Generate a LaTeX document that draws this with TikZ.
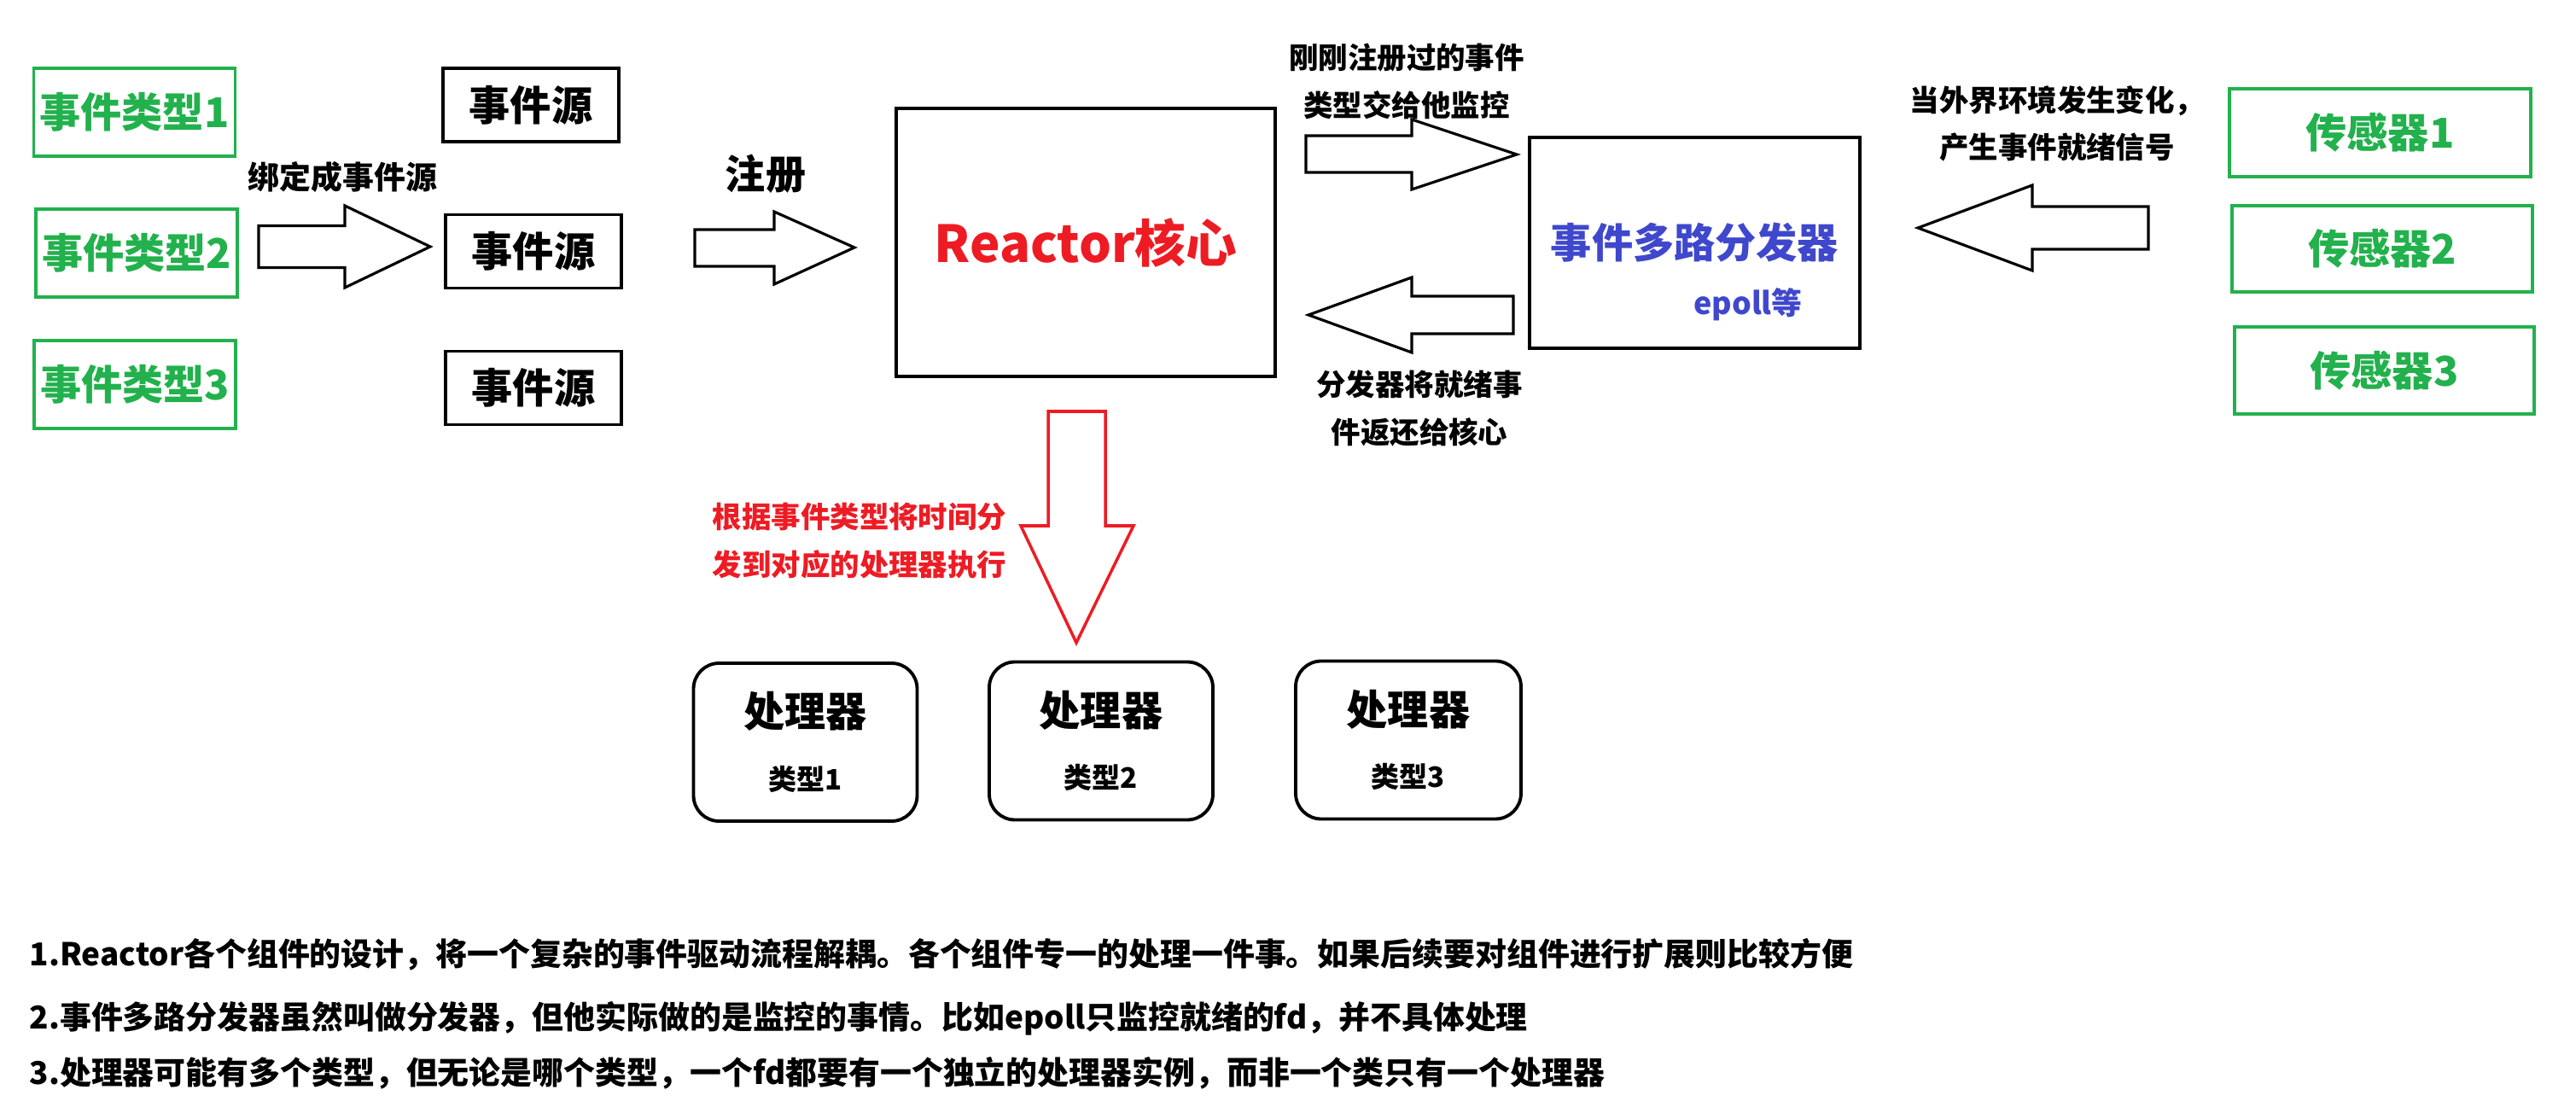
\documentclass[tikz,border=0pt]{standalone}
\usepackage{fontspec}
\setmainfont{Noto Sans CJK SC}

\newcommand{\boxfont}{\fontsize{13.7}{16}\selectfont\bfseries}
\newcommand{\corefont}{\fontsize{17}{20}\selectfont\bfseries}
\newcommand{\notefont}{\fontsize{9.8}{15.9}\selectfont\bfseries}
\newcommand{\typefont}{\fontsize{9.4}{11}\selectfont\bfseries}
\newcommand{\remarkfont}{\fontsize{10.5}{12}\selectfont\bfseries}

\begin{document}
\begin{tikzpicture}[
		greenbox/.style={draw=paintgreen, line width=1.1pt, text=paintgreen, minimum width=2.36cm, minimum height=1.03cm, inner sep=0pt, font=\boxfont},
		sourcebox/.style={draw, line width=1.1pt, minimum width=2.06cm, minimum height=0.86cm, inner sep=0pt, font=\boxfont},
		handlerbox/.style={draw, line width=1.1pt, rounded corners=0.3cm, minimum width=2.62cm, minimum height=1.85cm, align=center, inner sep=0pt, font=\fontsize{13.7}{21}\selectfont\bfseries},
		blockarrow/.style={draw, line width=0.9pt, line join=miter},
		notetext/.style={align=center, font=\notefont},
		remark/.style={anchor=west, inner sep=0pt, font=\remarkfont},
	]
	% Define colors
	\definecolor{paintgreen}{RGB}{34,177,76}
	\definecolor{paintred}{RGB}{237,28,36}
	\definecolor{paintblue}{RGB}{63,72,204}
	\useasboundingbox (0,0) rectangle (30.18,-13.11);
	% Event types
	\node[greenbox] (type1) at (1.575,-1.315) {事件类型1};
	\node[greenbox] (type2) at (1.60,-2.965) {事件类型2};
	\node[greenbox] (type3) at (1.58,-4.505) {事件类型3};
	% Event sources
	\node[sourcebox] (src1) at (6.22,-1.23) {事件源};
	\node[sourcebox] (src2) at (6.25,-2.945) {事件源};
	\node[sourcebox] (src3) at (6.25,-4.545) {事件源};
	% Bind arrow
	\draw[blockarrow] (3.03,-2.645) -- (4.04,-2.645) -- (4.04,-2.41) -- (5.04,-2.89) -- (4.04,-3.37) -- (4.04,-3.135) -- (3.03,-3.135) -- cycle;
	\node[font=\fontsize{10.5}{12}\selectfont\bfseries] (bindlabel) at (4.015,-2.07) {绑定成事件源};
	% Register arrow
	\draw[blockarrow] (8.14,-2.69) -- (9.07,-2.69) -- (9.07,-2.48) -- (10.01,-2.90) -- (9.07,-3.33) -- (9.07,-3.12) -- (8.14,-3.12) -- cycle;
	\node[font=\fontsize{13.4}{15}\selectfont\bfseries] (reglabel) at (8.97,-2.04) {注册};
	% Reactor core and demultiplexer
	\node[draw, line width=1.1pt, minimum width=4.44cm, minimum height=3.14cm, text=paintred, font=\corefont] (core) at (12.72,-2.84) {Reactor核心};
	\node[draw, line width=1.1pt, minimum width=3.87cm, minimum height=2.47cm, text=paintblue, font=\boxfont] (demux) at (19.855,-2.845) {事件多路分发器};
	\node[text=paintblue, font=\fontsize{10.2}{12}\selectfont\bfseries] (epoll) at (20.48,-3.57) {epoll等};
	% Core -> demux
	\draw[blockarrow] (15.30,-1.59) -- (16.54,-1.59) -- (16.54,-1.40) -- (17.77,-1.81) -- (16.54,-2.22) -- (16.54,-2.02) -- (15.30,-2.02) -- cycle;
	\node[notetext] (watchlabel) at (16.48,-0.95) {刚刚注册过的事件\\类型交给他监控};
	% Demux -> core
	\draw[blockarrow] (17.73,-3.47) -- (16.54,-3.47) -- (16.54,-3.25) -- (15.33,-3.69) -- (16.54,-4.13) -- (16.54,-3.91) -- (17.73,-3.91) -- cycle;
	\node[notetext] (returnlabel) at (16.63,-4.785) {分发器将就绪事\\件返还给核心};
	% Sensors
	\node[greenbox, minimum width=3.53cm] (sensor1) at (27.885,-1.555) {传感器1};
	\node[greenbox, minimum width=3.52cm, minimum height=1.01cm] (sensor2) at (27.91,-2.915) {传感器2};
	\node[greenbox, minimum width=3.51cm, minimum height=1.02cm] (sensor3) at (27.935,-4.34) {传感器3};
	% Sensors -> demux
	\draw[blockarrow] (25.17,-2.42) -- (23.81,-2.42) -- (23.81,-2.17) -- (22.47,-2.67) -- (23.81,-3.17) -- (23.81,-2.92) -- (25.17,-2.92) -- cycle;
	\node[notetext] (signallabel) at (24.10,-1.45) {当外界环境发生变化，\\产生事件就绪信号};
	% Dispatch to handlers
	\draw[blockarrow, draw=paintred, line width=1pt] (12.28,-4.82) -- (12.95,-4.82) -- (12.95,-6.16) -- (13.28,-6.16) -- (12.61,-7.53) -- (11.96,-6.16) -- (12.28,-6.16) -- cycle;
	\node[notetext, text=paintred] (dispatchlabel) at (10.07,-6.34) {根据事件类型将时间分\\发到对应的处理器执行};
	\node[handlerbox] (handler1) at (9.435,-8.695) {处理器\\{\typefont 类型1}};
	\node[handlerbox] (handler2) at (12.90,-8.68) {处理器\\{\typefont 类型2}};
	\node[handlerbox, minimum width=2.64cm] (handler3) at (16.50,-8.67) {处理器\\{\typefont 类型3}};
	% Remarks
	\node[remark] (remark1) at (0.34,-11.18) {1.Reactor各个组件的设计，将一个复杂的事件驱动流程解耦。各个组件专一的处理一件事。如果后续要对组件进行扩展则比较方便};
	\node[remark] (remark2) at (0.34,-11.93) {2.事件多路分发器虽然叫做分发器，但他实际做的是监控的事情。比如epoll只监控就绪的fd，并不具体处理};
	\node[remark] (remark3) at (0.34,-12.57) {3.处理器可能有多个类型，但无论是哪个类型，一个fd都要有一个独立的处理器实例，而非一个类只有一个处理器};
\end{tikzpicture}
\end{document}
